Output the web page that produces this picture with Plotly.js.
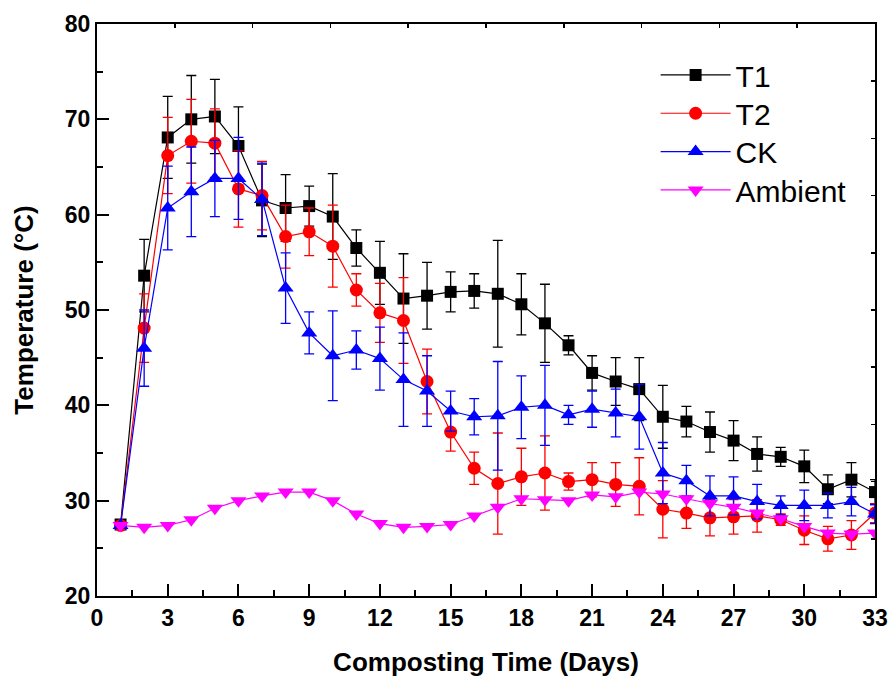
<!DOCTYPE html>
<html>
<head>
<meta charset="utf-8">
<script src="https://cdn.plot.ly/plotly-3.0.1.min.js"></script>
<style>html,body{margin:0;padding:0;background:#fff;}#chart{width:891px;height:677px;}</style>
</head>
<body>
<div id="chart"></div>
<script>
const days = [1,2,3,4,5,6,7,8,9,10,11,12,13,14,15,16,17,18,19,20,21,22,23,24,25,26,27,28,29,30,31,32,33];
const t1 = [27.5,53.6,68.1,70.0,70.3,67.2,61.5,60.7,60.9,59.8,56.5,53.9,51.2,51.5,51.9,52.0,51.7,50.6,48.6,46.3,43.4,42.5,41.7,38.8,38.3,37.2,36.3,34.9,34.6,33.6,31.2,32.2,30.9];
const t1Err = [0.3,3.8,4.3,4.6,3.9,4.1,3.8,3.5,2.1,4.5,1.9,3.3,4.7,3.5,2.1,1.8,5.6,3.2,4.1,1.0,1.8,2.5,3.3,3.3,1.6,2.1,2.1,1.8,1.0,1.7,1.5,1.8,1.3];
const t2 = [27.4,48.1,66.2,67.7,67.5,62.7,62.0,57.7,58.2,56.7,52.1,49.7,48.9,42.5,37.2,33.4,31.8,32.5,32.9,32.0,32.2,31.7,31.5,29.1,28.7,28.2,28.3,28.4,28.0,26.9,26.0,26.4,28.7];
const t2Err = [0.3,3.6,4.0,4.4,3.6,4.0,3.6,3.3,2.5,4.3,1.7,3.1,4.5,3.4,2.0,1.7,5.3,3.0,3.9,0.9,1.8,2.3,3.0,3.0,1.6,1.9,1.8,1.7,0.6,1.5,1.3,1.5,1.0];
const ck = [27.4,46.0,60.7,62.4,63.8,63.8,61.6,52.3,47.6,45.2,45.8,44.9,42.7,41.5,39.4,38.8,38.9,39.8,40.0,39.0,39.6,39.2,38.8,32.9,32.1,30.5,30.5,29.9,29.5,29.5,29.5,29.9,28.6];
const ckErr = [0.3,4.0,4.4,4.7,4.0,4.3,3.8,3.7,2.2,4.7,2.0,3.3,4.9,3.7,2.1,1.9,5.7,3.3,4.2,1.0,1.9,2.5,3.4,3.2,1.6,2.1,2.0,1.8,1.0,1.6,1.3,1.5,1.0];
const ambient = [27.4,27.2,27.4,28.0,29.2,30.0,30.5,30.9,30.9,30.0,28.6,27.6,27.2,27.3,27.5,28.4,29.3,30.2,30.1,30.0,30.6,30.4,30.9,30.7,30.2,29.7,29.3,28.7,28.1,27.3,26.6,26.5,26.6];
const seriesNames = ['T1','T2','CK','Ambient'];
const xTickVals = [0,3,6,9,12,15,18,21,24,27,30,33];
const yTickVals = [20,30,40,50,60,70,80];

const FONT = 'Arial, "Liberation Sans", sans-serif';

function trace(name, y, err, color, symbol, size, legendId) {
  const t = {
    x: days, y: y, name: name, type: 'scatter', mode: 'lines+markers',
    line: {color: color, width: 1.2},
    marker: {color: color, symbol: symbol, size: size, line: {width: 0}},
    legend: legendId
  };
  if (err) {
    t.error_y = {type: 'data', array: err, visible: true, color: color, thickness: 1.3, width: 5};
  }
  return t;
}

const data = [
  trace(seriesNames[0], t1, t1Err, '#000000', 'square', 12, 'legend'),
  trace(seriesNames[1], t2, t2Err, '#FF0000', 'circle', 13, 'legend2'),
  trace(seriesNames[2], ck, ckErr, '#0000FF', 'triangle-up', 14, 'legend3'),
  trace(seriesNames[3], ambient, null, '#FF00FF', 'triangle-down', 14, 'legend4')
];

function legendAt(yPaper) {
  return {
    x: 0.718, y: yPaper, xanchor: 'left', yanchor: 'middle',
    bgcolor: 'rgba(0,0,0,0)', borderwidth: 0,
    font: {family: FONT, size: 30, color: '#000'},
    itemwidth: 70
  };
}

const tickFont = {family: FONT, size: 23, color: '#000', weight: 'bold'};

const layout = {
  width: 891, height: 677,
  margin: {l: 97, r: 16, t: 24, b: 81},
  paper_bgcolor: '#fff', plot_bgcolor: '#fff',
  font: {family: FONT, color: '#000'},
  showlegend: true,
  legend: legendAt(0.911),
  legend2: legendAt(0.844),
  legend3: legendAt(0.777),
  legend4: legendAt(0.710),
  xaxis: {
    range: [0, 33], tickvals: xTickVals, ticktext: xTickVals.map(v => '<b>' + v + '</b>'),
    ticks: 'inside', ticklen: 12, tickwidth: 2, tickcolor: '#000',
    minor: {dtick: 1.5, tick0: 0, ticks: 'inside', ticklen: 6, tickwidth: 2, tickcolor: '#000'},
    showline: true, linewidth: 2, linecolor: '#000', mirror: false,
    showgrid: false, zeroline: false,
    tickfont: tickFont,
    title: {text: '<b>Composting Time (Days)</b>', font: {family: FONT, size: 26, color: '#000'}, standoff: 23}
  },
  yaxis: {
    range: [20, 80], tickvals: yTickVals, ticktext: yTickVals.map(v => '<b>' + v + '</b>'),
    ticks: 'inside', ticklen: 12, tickwidth: 2, tickcolor: '#000',
    minor: {dtick: 5, tick0: 20, ticks: 'inside', ticklen: 6, tickwidth: 2, tickcolor: '#000'},
    showline: true, linewidth: 2, linecolor: '#000', mirror: false,
    showgrid: false, zeroline: false,
    tickfont: tickFont,
    title: {text: '<b>Temperature (°C)</b>', font: {family: FONT, size: 26, color: '#000'}, standoff: 24}
  },
  xaxis2: {
    overlaying: 'x', side: 'top', range: [0, 10], dtick: 1, tick0: 0,
    ticks: 'inside', ticklen: 4, tickwidth: 1.5, tickcolor: '#000',
    showticklabels: false, showline: true, linewidth: 2, linecolor: '#000',
    showgrid: false, zeroline: false
  },
  yaxis2: {
    overlaying: 'y', side: 'right', range: [0, 10], dtick: 1, tick0: 0,
    ticks: 'inside', ticklen: 4, tickwidth: 1.5, tickcolor: '#000',
    showticklabels: false, showline: true, linewidth: 2, linecolor: '#000',
    showgrid: false, zeroline: false
  }
};

data.push({x: [0], y: [0], xaxis: 'x2', yaxis: 'y2', mode: 'markers', marker: {opacity: 0}, showlegend: false, hoverinfo: 'skip'});

Plotly.newPlot('chart', data, layout, {displayModeBar: false, staticPlot: true});
</script>
</body>
</html>
